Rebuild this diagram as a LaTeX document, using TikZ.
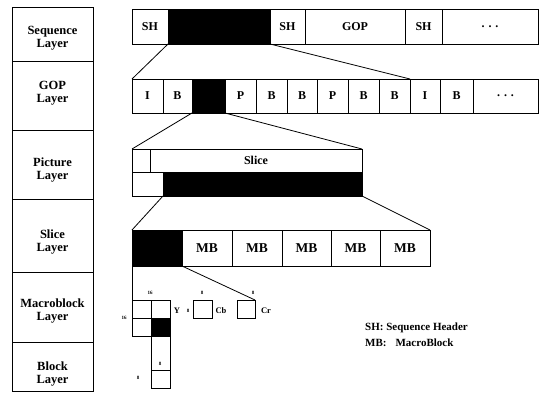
\documentclass[tikz,border=0pt]{standalone}
\usepackage{fontspec}
\setmainfont{Liberation Serif}
\newcommand\mycell[7]{\node[#6, minimum width={(#4-#2)*1pt}, minimum height={(#5-#3)*1pt}] (#1) at (#2,#3) {#7};}
\begin{document}
\begin{tikzpicture}[x=1pt,y=-1pt,
  cell/.style={draw, line width=0.9pt, inner sep=0pt, outer sep=0pt, anchor=north west, font=\fontsize{12}{13}\selectfont\bfseries},
  blk/.style={cell, fill=black},
  mbcell/.style={cell, font=\fontsize{13.5}{14}\selectfont\bfseries},
  layer/.style={draw, line width=0.9pt, inner sep=0pt, outer sep=0pt, anchor=north west},
  laytxt/.style={align=center, inner sep=0pt, font=\fontsize{12.5}{13.5}\selectfont\bfseries},
  small/.style={inner sep=0pt, font=\fontsize{5}{5}\selectfont\bfseries},
  comp/.style={inner sep=0pt, font=\fontsize{8.5}{9}\selectfont\bfseries},
  legend/.style={inner sep=0pt, anchor=west, font=\fontsize{11}{12}\selectfont\bfseries},
  conn/.style={line width=0.8pt}]
\useasboundingbox[fill=white] (0,0) rectangle (541,392);
% left column
\mycell{L1}{12}{7}{93}{61}{layer}{}
\mycell{L2}{12}{61}{93}{130}{layer}{}
\mycell{L3}{12}{130}{93}{199}{layer}{}
\mycell{L4}{12}{199}{93}{272}{layer}{}
\mycell{L5}{12}{272}{93}{342}{layer}{}
\mycell{L6}{12}{342}{93}{391}{layer}{}
\node[laytxt] (t1) at (52.5,38) {Sequence\\Layer};
\node[laytxt] (t2) at (52.5,93) {GOP\\Layer};
\node[laytxt] (t3) at (52.5,170) {Picture\\Layer};
\node[laytxt] (t4) at (52.5,242) {Slice\\Layer};
\node[laytxt] (t5) at (52.5,311) {Macroblock\\Layer};
\node[laytxt] (t6) at (52.5,374) {Block\\Layer};
% sequence layer
\mycell{sq1}{132}{9}{168}{44}{cell}{SH}
\mycell{sq2}{168}{9}{270}{44}{blk}{}
\mycell{sq3}{270}{9}{305}{44}{cell}{SH}
\mycell{sq4}{305}{9}{405}{44}{cell}{GOP}
\mycell{sq5}{405}{9}{442}{44}{cell}{SH}
\mycell{sq6}{442}{9}{538}{44}{cell}{.\,\,.\,\,.}
% GOP layer
\mycell{g1}{132}{79}{163}{113}{cell}{I}
\mycell{g2}{163}{79}{192}{113}{cell}{B}
\mycell{g3}{192}{79}{225}{113}{blk}{}
\mycell{g4}{225}{79}{256}{113}{cell}{P}
\mycell{g5}{256}{79}{287}{113}{cell}{B}
\mycell{g6}{287}{79}{317}{113}{cell}{B}
\mycell{g7}{317}{79}{348}{113}{cell}{P}
\mycell{g8}{348}{79}{379}{113}{cell}{B}
\mycell{g9}{379}{79}{410}{113}{cell}{B}
\mycell{g10}{410}{79}{440}{113}{cell}{I}
\mycell{g11}{440}{79}{473}{113}{cell}{B}
\mycell{g12}{473}{79}{538}{113}{cell}{.\,\,.\,\,.}
% picture layer
\mycell{p1}{132}{149}{150}{172}{cell}{}
\mycell{p2}{150}{149}{362}{172}{cell}{Slice}
\mycell{p3}{132}{172}{163}{196}{cell}{}
\mycell{p4}{163}{172}{362}{196}{blk}{}
% slice layer
\mycell{s0}{132}{230}{182}{266}{blk}{}
\mycell{s1}{182}{230}{232}{266}{mbcell}{MB}
\mycell{s2}{232}{230}{282}{266}{mbcell}{MB}
\mycell{s3}{282}{230}{331}{266}{mbcell}{MB}
\mycell{s4}{331}{230}{380}{266}{mbcell}{MB}
\mycell{s5}{380}{230}{430}{266}{mbcell}{MB}
% macroblock layer
\mycell{y1}{132}{300}{151}{318}{cell}{}
\mycell{y2}{151}{300}{170}{318}{cell}{}
\mycell{y3}{132}{318}{151}{336}{cell}{}
\mycell{y4}{151}{318}{170}{336}{blk}{}
\mycell{cb}{193}{300}{212}{318}{cell}{}
\mycell{cr}{237}{300}{255}{318}{cell}{}
% block layer
\mycell{bk}{151}{370}{170}{388}{cell}{}
% labels
\node[small] (n1) at (150,293) {16};
\node[small] (n2) at (124,318) {16};
\node[comp] (ly) at (177,311) {Y};
\node[small] (n3) at (188,311) {8};
\node[small] (n4) at (202,293) {8};
\node[comp] (lcb) at (221,311) {Cb};
\node[small] (n5) at (253,293) {8};
\node[comp] (lcr) at (266,311) {Cr};
\node[small] (n6) at (160,364) {8};
\node[small] (n7) at (138,378) {8};
% legend
\node[legend] (lg1) at (365,328) {SH: Sequence Header};
\node[legend] (lg2) at (365,343) {MB:\hspace{9pt}MacroBlock};
% connectors
\draw[conn] (sq2.south west) -- (g1.north west);
\draw[conn] (sq2.south east) -- (g10.north west);
\draw[conn] (g3.south west) -- (p1.north west);
\draw[conn] (g3.south east) -- (p2.north east);
\draw[conn] (p3.south east) -- (s0.north west);
\draw[conn] (p4.south east) -- (s5.north east);
\draw[conn] (s0.south west) -- (y1.north west);
\draw[conn] (s0.south east) -- (cr.north east);
\draw[conn] (y4.south west) -- (bk.north west);
\draw[conn] (y4.south east) -- (bk.north east);
\end{tikzpicture}
\end{document}
